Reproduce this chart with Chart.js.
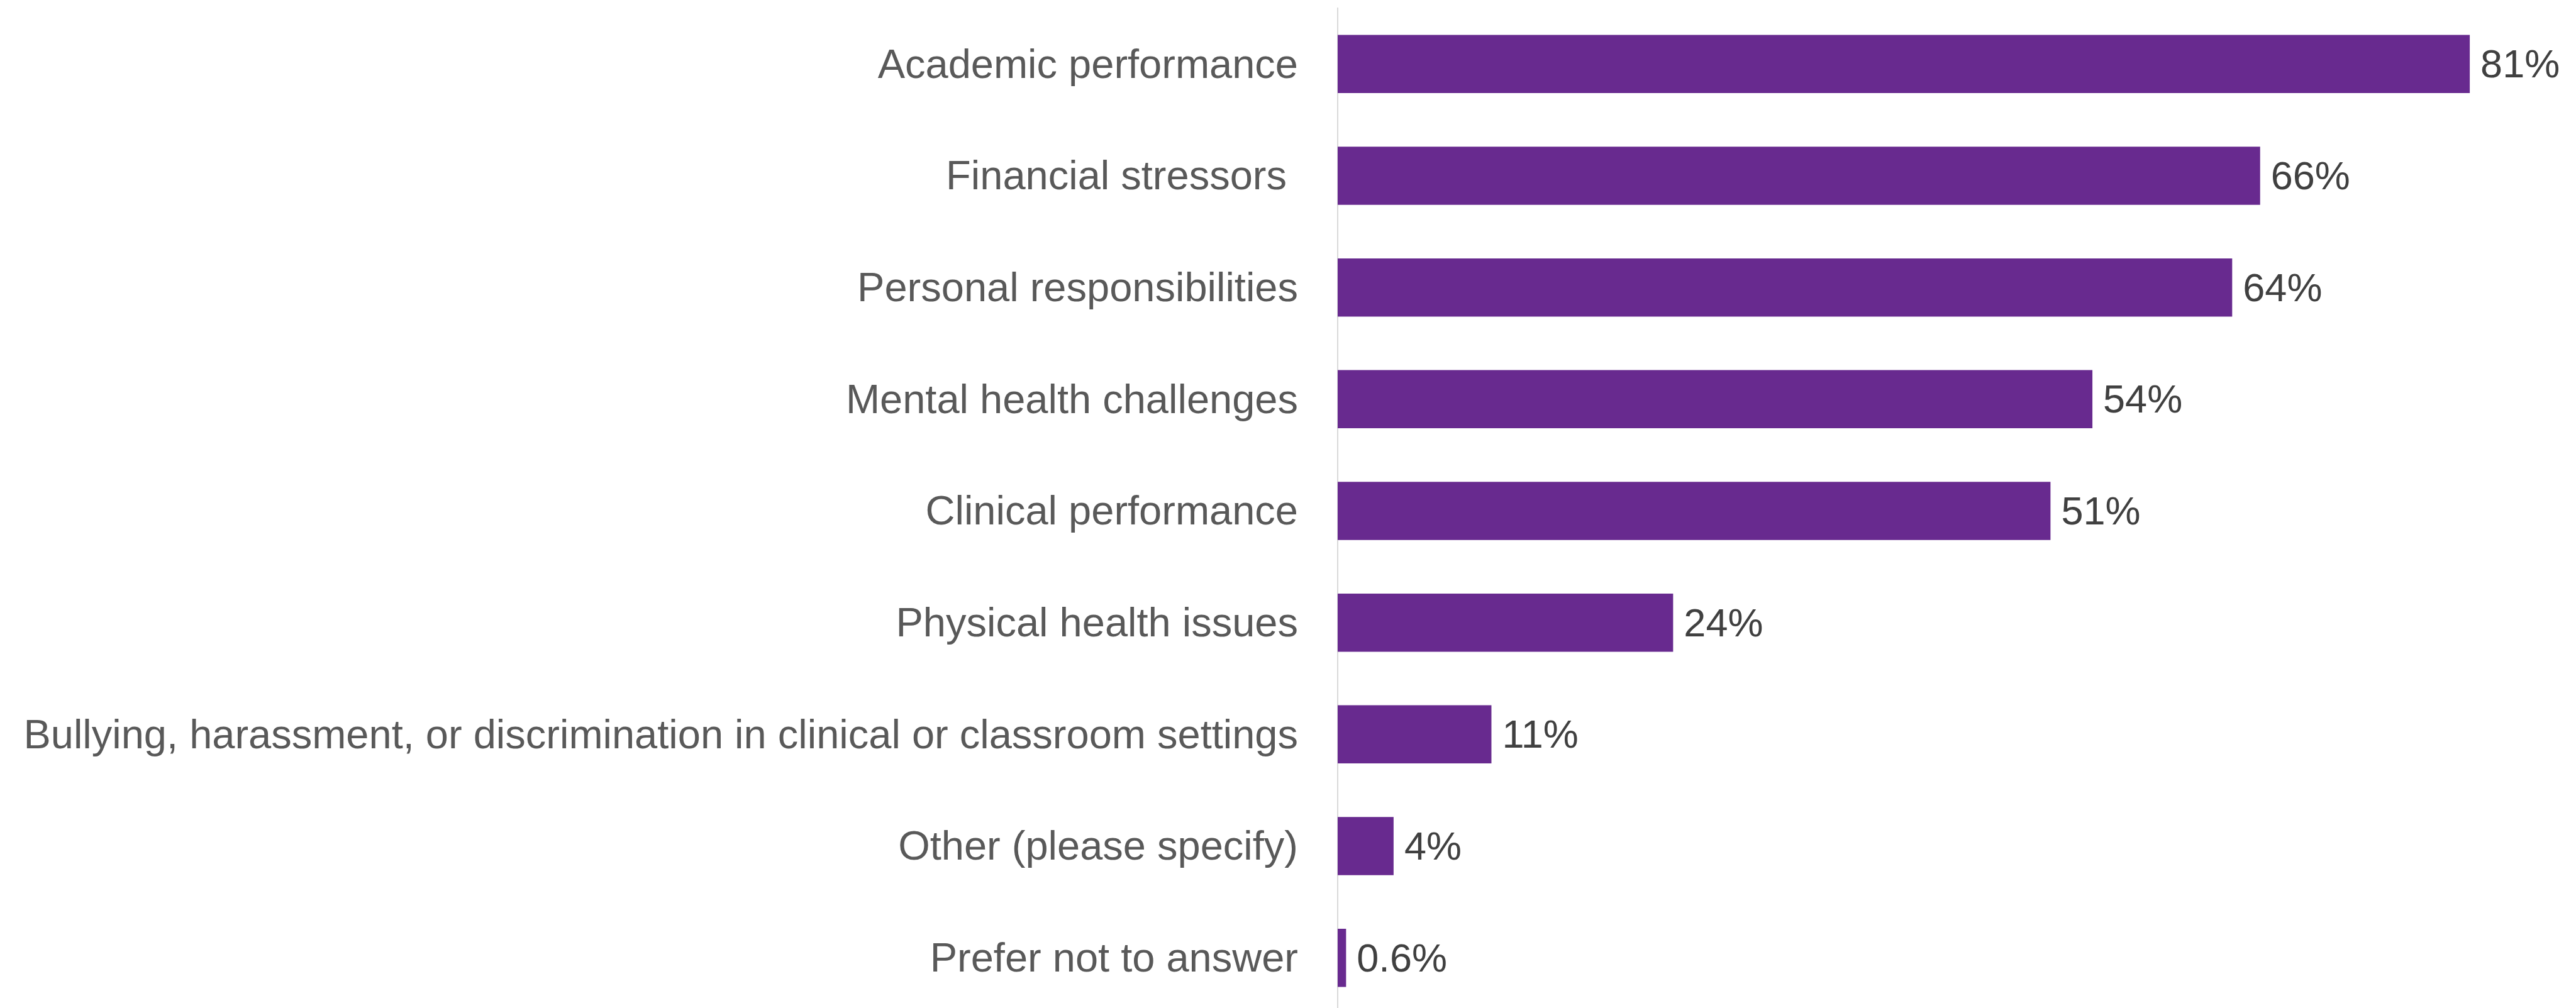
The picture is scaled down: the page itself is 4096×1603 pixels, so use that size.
<!DOCTYPE html>
<html>
<head>
<meta charset="utf-8">
<script src="https://cdn.jsdelivr.net/npm/chart.js@4/dist/chart.umd.min.js"></script>
<style>
  html, body { margin: 0; padding: 0; background: #ffffff; overflow: hidden; }
  #wrap { position: relative; width: 4096px; height: 1612px; }
</style>
</head>
<body>
<div id="wrap"><canvas id="c"></canvas></div>
<script>
const categories = [
  'Academic performance',
  'Financial stressors ',
  'Personal responsibilities',
  'Mental health challenges',
  'Clinical performance',
  'Physical health issues',
  'Bullying, harassment, or discrimination in clinical or classroom settings',
  'Other (please specify)',
  'Prefer not to answer'
];
const values = [81, 66, 64, 54, 51, 24, 11, 4, 0.6];
const valueLabels = ['81%', '66%', '64%', '54%', '51%', '24%', '11%', '4%', '0.6%'];

const FONT = "'Liberation Sans', Arial, sans-serif";

const barLabels = {
  id: 'barLabels',
  afterDatasetsDraw(chart) {
    const ctx = chart.ctx;
    const meta = chart.getDatasetMeta(0);
    ctx.save();
    ctx.font = '63px ' + FONT;
    ctx.fillStyle = '#404040';
    ctx.textAlign = 'left';
    ctx.textBaseline = 'middle';
    meta.data.forEach((bar, i) => {
      ctx.fillText(valueLabels[i], bar.x + 17, bar.y + 4);
    });
    ctx.restore();
  }
};

new Chart(document.getElementById('c'), {
  type: 'bar',
  data: {
    labels: categories,
    datasets: [{
      data: values,
      backgroundColor: '#682a8f',
      borderWidth: 0,
      barPercentage: 0.521,
      categoryPercentage: 1.0
    }]
  },
  options: {
    indexAxis: 'y',
    responsive: true,
    maintainAspectRatio: false,
    animation: false,
    devicePixelRatio: 1,
    layout: { padding: { top: 13, right: 0, bottom: 0, left: 0 } },
    plugins: { legend: { display: false }, tooltip: { enabled: false } },
    scales: {
      x: {
        display: false,
        min: 0,
        max: 88.6
      },
      y: {
        position: 'left',
        afterFit: (s) => { s.width = 2127; s.paddingTop = 0; s.paddingBottom = 0; },
        grid: { display: false, drawTicks: false },
        border: { display: true, color: '#d9d9d9', width: 2 },
        ticks: {
          padding: 63,
          labelOffset: 4,
          color: '#595959',
          font: { family: FONT, size: 65 },
          autoSkip: false
        }
      }
    }
  },
  plugins: [barLabels]
});
</script>
</body>
</html>
